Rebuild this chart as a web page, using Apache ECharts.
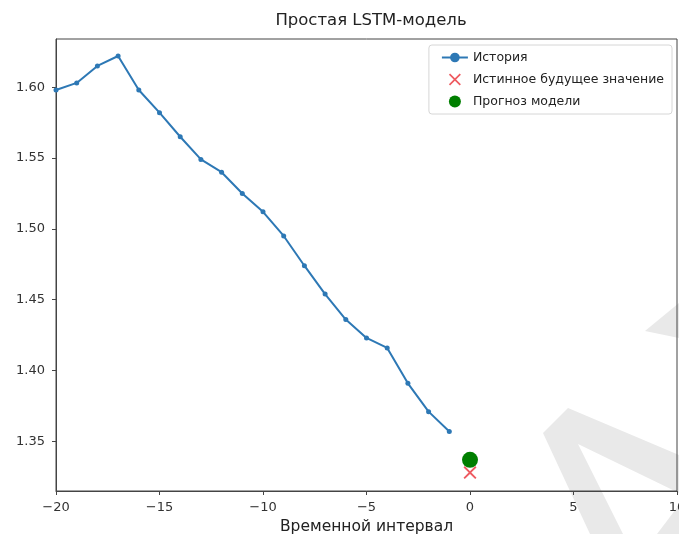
<!DOCTYPE html>
<html>
<head>
    <meta charset="utf-8" />
    <title>Простая LSTM-модель</title>
    <script src="https://cdn.jsdelivr.net/npm/echarts@6/dist/echarts.min.js"></script>
    <style>
        html, body { margin: 0; padding: 0; background: #fff; }
        #chart { width: 679px; height: 534px; }
    </style>
</head>
<body>
    <div id="chart"></div>
    <script>
        // исторические шаги (ось X) и значения
        var histSteps = [-20, -19, -18, -17, -16, -15, -14, -13, -12, -11, -10, -9, -8, -7, -6, -5, -4, -3, -2, -1];
        var histValues = [1.598, 1.603, 1.615, 1.622, 1.598, 1.582, 1.565, 1.549, 1.540, 1.525,
                          1.512, 1.495, 1.474, 1.454, 1.436, 1.423, 1.416, 1.391, 1.371, 1.357];
        var trueStep = [0];
        var trueValue = [1.328];
        var predStep = [0];
        var predValue = [1.337];
        var yTicks = [1.35, 1.40, 1.45, 1.50, 1.55, 1.60];
        var seriesNames = ['История', 'Истинное будущее значение', 'Прогноз модели'];

        var font = 'DejaVu Sans';
        var crossPath = 'path://M0,1.2L1.2,0L6,4.8L10.8,0L12,1.2L7.2,6L12,10.8L10.8,12L6,7.2L1.2,12L0,10.8L4.8,6Z';
        var wmColor = '#e9e9e9';

        function pairs(xs, ys) {
            var out = [];
            for (var i = 0; i < xs.length; i++) out.push([xs[i], ys[i]]);
            return out;
        }

        var myChart = echarts.init(document.getElementById('chart'));
        myChart.setOption({
            animation: false,
            backgroundColor: '#fff',
            // водяной знак в правом нижнем углу
            graphic: [
                { type: 'polygon', z: -10, silent: true,
                  shape: { points: [[590, 534], [543, 433], [568, 408], [679, 455], [679, 493], [578, 444], [623, 534]] },
                  style: { fill: wmColor } },
                { type: 'polygon', z: -10, silent: true,
                  shape: { points: [[657, 534], [679, 505], [679, 534]] },
                  style: { fill: wmColor } },
                { type: 'polygon', z: -10, silent: true,
                  shape: { points: [[645, 331], [679, 303], [679, 338]] },
                  style: { fill: wmColor } }
            ],
            title: {
                text: 'Простая LSTM-модель',
                left: 366,
                textAlign: 'center',
                top: 7,
                textStyle: { fontFamily: font, fontSize: 16.5, fontWeight: 'normal', color: '#222' }
            },
            grid: {
                left: 56, right: 2, top: 39, bottom: 43,
                outerBoundsMode: 'none',
                containLabel: false,
                show: true, borderColor: '#444', borderWidth: 1, backgroundColor: 'transparent'
            },
            legend: {
                orient: 'vertical',
                right: 7,
                top: 45,
                padding: [6, 8, 6, 12],
                itemGap: 9,
                itemWidth: 26,
                itemHeight: 12,
                borderColor: '#d6d6d6',
                borderWidth: 1,
                borderRadius: 3,
                backgroundColor: '#fff',
                data: seriesNames,
                textStyle: { fontFamily: font, fontSize: 12.5, color: '#222' }
            },
            xAxis: {
                type: 'value',
                min: -20,
                max: 10,
                interval: 5,
                name: 'Временной интервал',
                nameLocation: 'middle',
                nameGap: 27,
                nameTextStyle: { fontFamily: font, fontSize: 15.5, color: '#222' },
                splitLine: { show: false },
                axisLine: { onZero: false, lineStyle: { color: '#444' } },
                axisTick: { show: true, length: 4, lineStyle: { color: '#444' } },
                axisLabel: {
                    fontFamily: font, fontSize: 13, color: '#333', margin: 10,
                    formatter: function (v) { return String(v).replace('-', '\u2212'); }
                }
            },
            yAxis: {
                type: 'value',
                min: 1.315,
                max: 1.634,
                splitLine: { show: false },
                axisLine: { show: true, onZero: false, lineStyle: { color: '#444' } },
                axisTick: { show: true, length: 4, customValues: yTicks, lineStyle: { color: '#444' } },
                axisLabel: {
                    fontFamily: font, fontSize: 13, color: '#333', margin: 11,
                    customValues: yTicks,
                    formatter: function (v) { return v.toFixed(2); }
                }
            },
            series: [
                {
                    name: seriesNames[0],
                    type: 'line',
                    data: pairs(histSteps, histValues),
                    symbol: 'circle',
                    symbolSize: 5,
                    showSymbol: true,
                    lineStyle: { color: '#2d78b5', width: 2 },
                    itemStyle: { color: '#2d78b5' }
                },
                {
                    name: seriesNames[1],
                    type: 'scatter',
                    data: pairs(trueStep, trueValue),
                    symbol: crossPath,
                    symbolSize: 13,
                    itemStyle: { color: '#ee5a60', opacity: 1 }
                },
                {
                    name: seriesNames[2],
                    type: 'scatter',
                    data: pairs(predStep, predValue),
                    symbol: 'circle',
                    symbolSize: 16,
                    itemStyle: { color: '#007f00', opacity: 1 }
                }
            ]
        });
    </script>
</body>
</html>
